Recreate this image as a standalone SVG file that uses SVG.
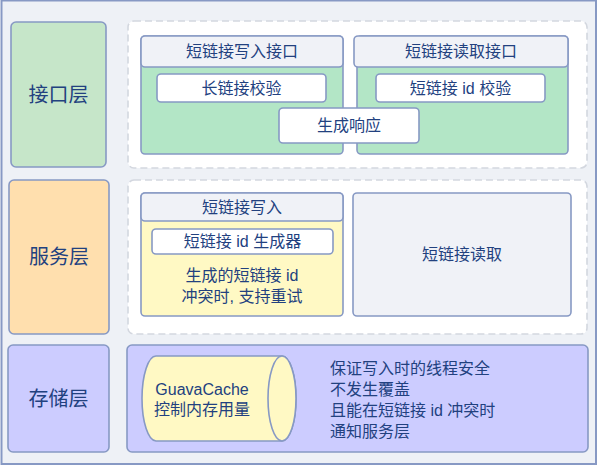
<svg xmlns="http://www.w3.org/2000/svg" width="598" height="466" viewBox="0 0 598 466">
<style>
text{font-family:"Liberation Sans","Noto Sans CJK SC",sans-serif;fill:#22417f;font-size:16px;dominant-baseline:central}
.c{text-anchor:middle}
.layer{font-size:20px}
.bx{stroke:#8799c4;stroke-width:1.6}
.dash{fill:#ffffff;stroke:#d3d7df;stroke-width:1.6;stroke-dasharray:7 4}
.hdr{fill:#f0f2f7}
.wh{fill:#ffffff}
</style>
<rect x="1.5" y="0.5" width="594.5" height="463.5" fill="#eef1f6" stroke="#8799c4" stroke-width="2"/>

<g id="layer-interface">
<rect class="bx" x="11" y="22" width="95" height="145" rx="5" fill="#c6e6c9"/>
<text class="c layer" x="58.5" y="95">接口层</text>
</g>
<g id="layer-service">
<rect class="bx" x="9" y="180" width="100" height="154" rx="5" fill="#ffdfae"/>
<text class="c layer" x="59" y="257">服务层</text>
</g>
<g id="layer-storage">
<rect class="bx" x="8" y="345" width="101" height="107" rx="5" fill="#ccccff"/>
<text class="c layer" x="58.5" y="398.5">存储层</text>
</g>

<g id="interface-container">
<rect class="dash" x="128" y="21" width="459" height="147" rx="6"/>
</g>
<g id="write-api">
<rect class="bx" x="141" y="36" width="202" height="118" rx="4" fill="#b3e6c6"/>
<rect class="bx hdr" x="141" y="36" width="202" height="31" rx="4"/>
<text class="c" x="242" y="51.5">短链接写入接口</text>
</g>
<g id="read-api">
<rect class="bx" x="357" y="36" width="211" height="118" rx="4" fill="#b3e6c6"/>
<rect class="bx hdr" x="354" y="36" width="214" height="31" rx="4"/>
<text class="c" x="461" y="51.5">短链接读取接口</text>
</g>
<g id="long-link-check">
<rect class="bx wh" x="157" y="74" width="169" height="28" rx="4"/>
<text class="c" x="241.5" y="88">长链接校验</text>
</g>
<g id="short-id-check">
<rect class="bx wh" x="376" y="74" width="169" height="28" rx="4"/>
<text class="c" x="460.5" y="88">短链接 id 校验</text>
</g>
<g id="gen-response">
<rect class="bx wh" x="279" y="108" width="140" height="35" rx="4"/>
<text class="c" x="349" y="125.5">生成响应</text>
</g>

<g id="service-container">
<rect class="dash" x="128" y="180" width="459" height="154" rx="6"/>
</g>
<g id="write-service">
<rect class="bx" x="141" y="193" width="202" height="123" rx="4" fill="#fff9c4"/>
<rect class="bx hdr" x="141" y="193" width="202" height="28" rx="4"/>
<text class="c" x="242" y="207">短链接写入</text>
<text class="c" x="242" y="275">生成的短链接 id</text>
<text class="c" x="242" y="296">冲突时, 支持重试</text>
</g>
<g id="id-generator">
<rect class="bx wh" x="152" y="229" width="181" height="25" rx="4"/>
<text class="c" x="242.5" y="241.5">短链接 id 生成器</text>
</g>
<g id="read-service">
<rect class="bx hdr" x="353" y="193" width="218" height="123" rx="4"/>
<text class="c" x="462" y="254.5">短链接读取</text>
</g>

<g id="storage-container">
<rect class="bx" x="127" y="345" width="461" height="107" rx="5" fill="#ccccff"/>
<text x="330" y="368.5">保证写入时的线程安全</text>
<text x="330" y="389.5">不发生覆盖</text>
<text x="330" y="410.5">且能在短链接 id 冲突时</text>
<text x="330" y="431.5">通知服务层</text>
</g>
<g id="guava-cache">
<path class="bx" d="M156,356 L282,356 A14,42.5 0 0 1 282,441 L156,441 A14,42.5 0 0 1 156,356 Z" fill="#fff9c4"/>
<ellipse class="bx" cx="282" cy="398.5" rx="14" ry="42.5" fill="#fff9c4"/>
<text class="c" x="202" y="389">GuavaCache</text>
<text class="c" x="202" y="409">控制内存用量</text>
</g>

<g id="connectors"></g>
</svg>
